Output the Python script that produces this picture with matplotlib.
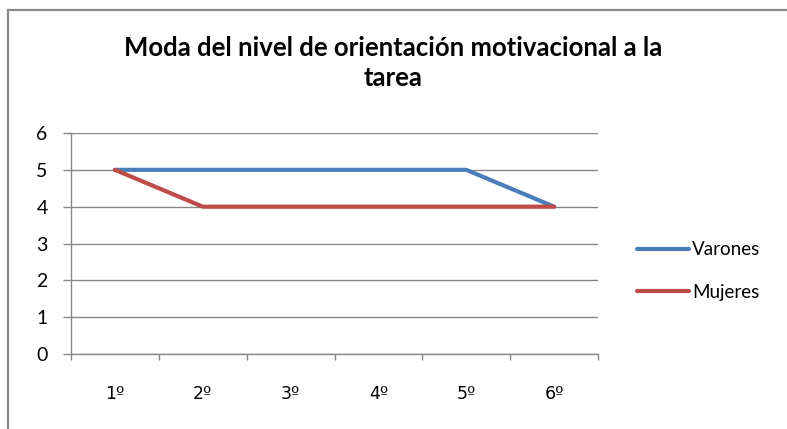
import matplotlib
matplotlib.use('Agg')
import matplotlib.pyplot as plt
from matplotlib.patches import Rectangle

# datos del grafico
cursos = ['1º', '2º', '3º', '4º', '5º', '6º']
varones = [5, 5, 5, 5, 5, 4]
mujeres = [5, 4, 4, 4, 4, 4]
titulo = 'Moda del nivel de orientación motivacional a la\ntarea'

W, H = 787, 429
GRIS = '#878787'

plt.rcParams['font.family'] = ['Lato', 'DejaVu Sans']

fig = plt.figure(figsize=(W / 100, H / 100), dpi=100)

# marco del grafico (se sale por la derecha y por abajo)
fig.patches.append(Rectangle((8 / W, -0.1), 1.2, 1 - 10 / H + 0.1, transform=fig.transFigure,
                             fill=False, edgecolor=GRIS, linewidth=1.6))

# ejes en pixeles: izq 71, der 598, arriba 133, abajo 354
ax = fig.add_axes([71 / W, 1 - 354 / H, (598 - 71) / W, (354 - 133) / H])

x = range(len(cursos))
ax.plot(x, varones, color='#4A7EBB', linewidth=3, solid_capstyle='round', label='Varones')
ax.plot(x, mujeres, color='#BE4B48', linewidth=3, solid_capstyle='round', label='Mujeres')

ax.set_xlim(-0.5, len(cursos) - 0.5)
ax.set_ylim(0, 6)
ax.set_yticks(range(0, 7))
ax.set_xticks(list(x))
ax.set_xticklabels(cursos, family=['DejaVu Sans'])
ax.set_xticks([i - 0.5 for i in range(len(cursos) + 1)], minor=True)

ax.grid(axis='y', color=GRIS, linewidth=1.0)
ax.set_axisbelow(True)
for s in ['top', 'right']:
    ax.spines[s].set_visible(False)
for s in ['left', 'bottom']:
    ax.spines[s].set_color(GRIS)
    ax.spines[s].set_linewidth(1.0)

ax.tick_params(axis='y', length=5.8, width=1.0, color=GRIS, labelsize=14, pad=11)
ax.tick_params(axis='x', which='major', length=0, labelsize=12.5, pad=22)
ax.tick_params(axis='x', which='minor', length=4.5, width=1.0, color=GRIS)

fig.text(393 / W, 1 - 63 / H, titulo, ha='center', va='center', fontsize=18.5,
         fontweight='bold', linespacing=1.35)

fig.legend(loc='center left', bbox_to_anchor=(637 / W, 1 - 271 / H), frameon=False,
           fontsize=13.5, handlelength=2.75, handletextpad=0.2, labelspacing=1.35,
           borderpad=0, borderaxespad=0)

fig.savefig('out.png', dpi=100)
